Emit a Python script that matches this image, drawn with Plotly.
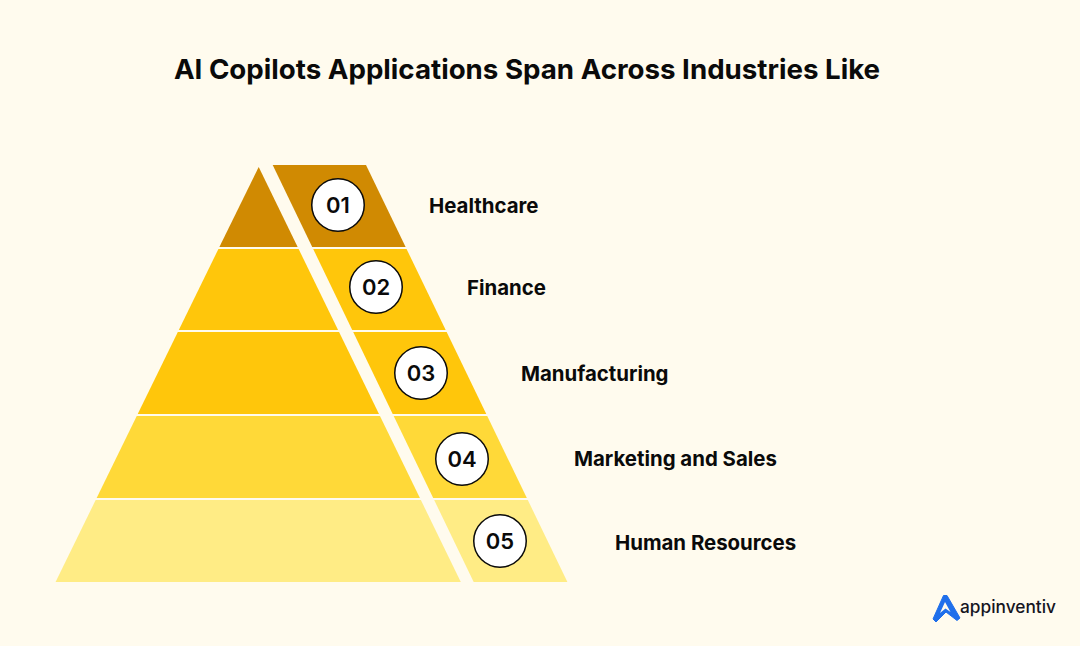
import plotly.graph_objects as go

title = "AI Copilots Applications Span Across Industries Like"
industries = ["Healthcare", "Finance", "Manufacturing", "Marketing and Sales", "Human Resources"]
numbers = ["01", "02", "03", "04", "05"]
colors = ["#D08A02", "#FFC60B", "#FFC60B", "#FFD938", "#FFEC85"]

# tier top / bottom in picture pixels
tier_top = [165, 249, 332, 416, 500]
tier_bottom = [247, 330, 414, 498, 582]

circle_x = [338, 376, 421, 462, 500]
circle_y = [205, 287, 373, 459, 541]
label_x = [429, 467, 521, 574, 615]
label_y = [207.5, 289.5, 375.5, 460.5, 544.5]

logo_x = [933, 943.5, 947, 960, 957, 946, 936, 933]
logo_y = [619, 595.5, 595.5, 618, 620.5, 612, 622, 619]
logo_hole_x = [945, 940, 945.5, 950.5, 945]
logo_hole_y = [602, 613, 608.5, 612, 602]


def left_edge(y):
    return 259 - (y - 166) * 0.489


def right_edge(y):
    return 366 + (y - 165) * 0.483


def slit_left(y):
    return 258.7 + (y - 167) * 0.487


def slit_right(y):
    return 272.7 + (y - 165) * 0.482


fig = go.Figure()

for i in range(5):
    top = tier_top[i]
    bot = tier_bottom[i]
    # top tier's left piece comes to a point
    if i == 0:
        xs = [slit_left(167), slit_left(bot), left_edge(bot)]
        ys = [167, bot, bot]
    else:
        xs = [left_edge(top), slit_left(top), slit_left(bot), left_edge(bot)]
        ys = [top, top, bot, bot]
    fig.add_trace(go.Scatter(x=xs, y=ys, mode="lines", fill="toself", fillcolor=colors[i],
                             line=dict(width=0), hoverinfo="skip"))
    xs = [slit_right(top), right_edge(top), right_edge(bot), slit_right(bot)]
    ys = [top, top, bot, bot]
    fig.add_trace(go.Scatter(x=xs, y=ys, mode="lines", fill="toself", fillcolor=colors[i],
                             line=dict(width=0), hoverinfo="skip"))

fig.add_trace(go.Scatter(x=circle_x, y=circle_y, mode="markers",
                         marker=dict(size=52.5, color="#FFFFFF", line=dict(color="#0A0A0A", width=1.5)),
                         hoverinfo="skip"))
# svg text sits a bit high, nudge the numbers down
fig.add_trace(go.Scatter(x=circle_x, y=[v + 2 for v in circle_y], mode="text", text=numbers,
                         textposition="middle center",
                         textfont=dict(family="Inter", size=22, color="#0A0A0A", weight=600),
                         hoverinfo="skip"))

fig.add_trace(go.Scatter(x=label_x, y=label_y, mode="text", text=industries,
                         textposition="middle right",
                         textfont=dict(family="Inter", size=20.4, color="#0A0A0A", weight=700),
                         hoverinfo="skip"))

fig.add_trace(go.Scatter(x=logo_x, y=logo_y, mode="lines", fill="toself", fillcolor="#1F6FEB",
                         line=dict(width=1, color="#1F6FEB"), hoverinfo="skip"))
fig.add_trace(go.Scatter(x=logo_hole_x, y=logo_hole_y, mode="lines", fill="toself", fillcolor="#FFFBEE",
                         line=dict(width=0), hoverinfo="skip"))
fig.add_annotation(x=958, y=606, text="appinventiv", showarrow=False, xanchor="left", yanchor="middle",
                   font=dict(family="Inter", size=17.3, color="#15151F", weight=500))

fig.update_layout(
    width=1080, height=646,
    margin=dict(l=0, r=0, t=0, b=0),
    paper_bgcolor="#FFFBEE", plot_bgcolor="#FFFBEE",
    showlegend=False,
    title=dict(text=title, x=527 / 1080, y=1 - 69 / 646, xanchor="center", yanchor="middle",
               font=dict(family="Inter", size=27.7, color="#0A0A0A", weight=700)),
    xaxis=dict(range=[0, 1080], visible=False, fixedrange=True),
    yaxis=dict(range=[646, 0], visible=False, fixedrange=True),
)

# page body has a default margin, drop it so the figure fills the window
fig.write_html("out.html", config=dict(displayModeBar=False),
               post_script="document.body.style.margin='0';document.body.style.overflow='hidden';")
